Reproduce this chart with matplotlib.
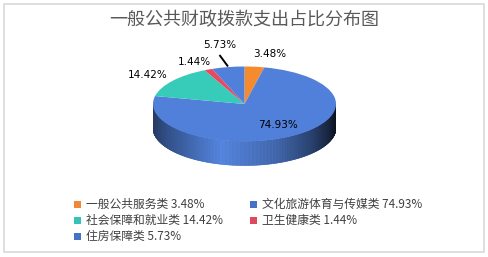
import numpy as np
import matplotlib
matplotlib.use("Agg")
import matplotlib.pyplot as plt
from matplotlib.collections import PolyCollection
from matplotlib.patches import Rectangle
from matplotlib.colors import to_rgb

plt.rcParams['font.family'] = ['Noto Sans CJK SC', 'DejaVu Sans']

# ---- data ----
title = "一般公共财政拨款支出占比分布图"
categories = ["一般公共服务类", "文化旅游体育与传媒类", "社会保障和就业类", "卫生健康类", "住房保障类"]
values = [3.48, 74.93, 14.42, 1.44, 5.73]
value_labels = ["3.48%", "74.93%", "14.42%", "1.44%", "5.73%"]

# ---- styles ----
pie_colors = ["#F58A2E", "#5080DA", "#37CBBA", "#E8495E", "#5080DA"]
legend_colors = ["#F0883A", "#4472C4", "#36C2B4", "#E0485E", "#4472C4"]
label_pos = [(270, 54), (277.5, 125.5), (148, 75), (194, 62), (219.5, 45)]  # pixel coords

W, H = 489, 257
fig = plt.figure(figsize=(W / 100, H / 100), dpi=100)
fig.patch.set_facecolor("white")

# pie geometry in pixels
cx, cy, rx, ry, depth = 244.5, 104.0, 91.5, 37.5, 24.0
d = depth / ry
ax = fig.add_axes([(cx - rx) / W, (H - (cy + ry + depth)) / H, 2 * rx / W, (2 * ry + depth) / H])

# side wall
total = sum(values)
polys, cols = [], []
cum = 0.0
for v, c in zip(values, pie_colors):
    t_hi = 90 - 360 * cum / total
    t_lo = 90 - 360 * (cum + v) / total
    cum += v
    n = max(2, int((t_hi - t_lo) * 2))
    ts = np.linspace(t_lo, t_hi, n + 1)
    base = np.array(to_rgb(c))
    for a, b in zip(ts[:-1], ts[1:]):
        m = np.radians((a + b) / 2)
        if np.sin(m) >= 0:
            continue
        a1, b1 = np.radians(a), np.radians(b)
        p = [(np.cos(a1), np.sin(a1)), (np.cos(b1), np.sin(b1)),
             (np.cos(b1), np.sin(b1) - d), (np.cos(a1), np.sin(a1) - d)]
        x = np.cos(m)
        f = np.interp(x, [-1, -0.85, -0.25, 0.35, 0.75, 0.93, 1.0],
                      [0.45, 0.62, 1.02, 0.78, 0.5, 0.28, 0.14])
        col = np.clip(base * f, 0, 1)
        polys.append(p)
        cols.append(col)
pc = PolyCollection(polys, facecolors=cols, edgecolors=cols, linewidths=0.4, zorder=1)
ax.add_collection(pc)

wedges, _ = ax.pie(values, colors=pie_colors, startangle=90, counterclock=False,
                   radius=1, center=(0, 0), frame=True,
                   wedgeprops=dict(linewidth=0))
for w in wedges:
    w.set_zorder(2)
ax.set_aspect('auto')
ax.set_xlim(-1, 1)
ax.set_ylim(-1 - d, 1)
ax.axis('off')

# overlay in pixel coordinates
ov = fig.add_axes([0, 0, 1, 1], facecolor="none")
ov.set_xlim(0, W)
ov.set_ylim(H, 0)
ov.axis('off')

# border
ov.add_patch(Rectangle((3.5, 3.5), 480, 248.5, fill=False, edgecolor="#D9D9D9", linewidth=1.2))

# title
ov.text(244, 20, title, ha='center', va='center', fontsize=13, color="#595959")

# value labels
for lab, (x, y) in zip(value_labels, label_pos):
    ov.text(x, y, lab, ha='center', va='center', fontsize=7.5, color="#000000",
            family=['DejaVu Sans'])
# leader line for 5.73%
ov.plot([219.5, 228], [55, 66.5], color='black', linewidth=1.4, solid_capstyle='butt')

# legend (row-wise, 2 columns)
col_x = [77.5, 253.5]
row_y = [204, 220, 236]
for i, (cat, val, c) in enumerate(zip(categories, values, legend_colors)):
    r, k = divmod(i, 2)
    mx, my = col_x[k], row_y[r]
    ov.add_patch(Rectangle((mx - 3.5, my - 3.5), 7, 7, facecolor=c, edgecolor='none'))
    ov.text(mx + 8.5, my, f"{cat} {val:.2f}%", ha='left', va='center', fontsize=8.5,
            color="#404040")

fig.savefig("out.png", dpi=100, facecolor="white")
